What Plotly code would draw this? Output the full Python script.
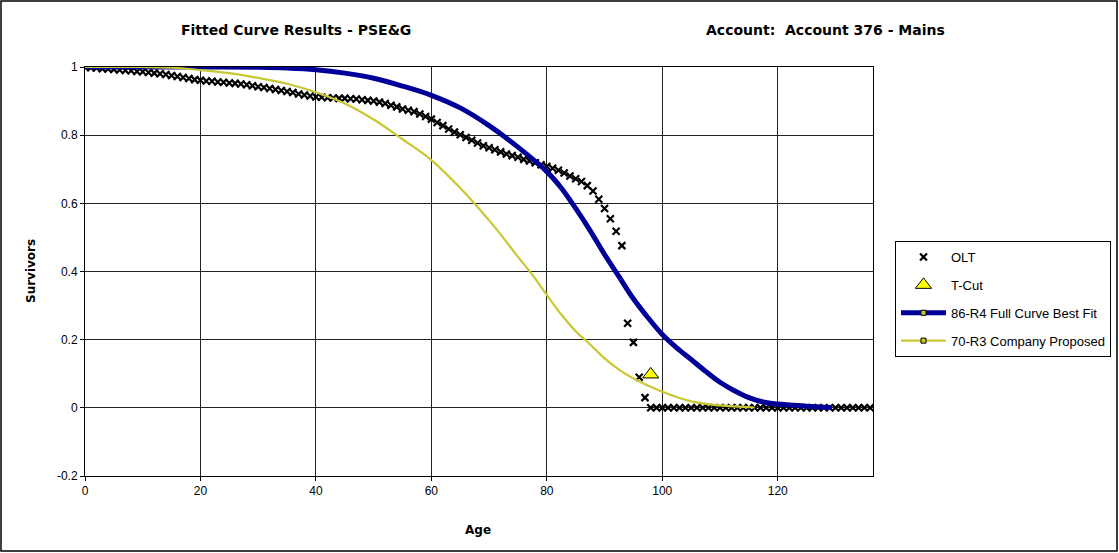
import plotly.graph_objects as go

# ---------------- data ----------------
olt_age = list(range(0, 137))
olt_surv = [
    1.000, 0.998, 0.997, 0.995, 0.994, 0.993, 0.991, 0.990, 0.989, 0.987,
    0.986, 0.984, 0.982, 0.980, 0.978, 0.975, 0.972, 0.969, 0.966, 0.963,
    0.961, 0.959, 0.958, 0.956, 0.955, 0.953, 0.952, 0.950, 0.948, 0.945,
    0.942, 0.940, 0.937, 0.934, 0.931, 0.928, 0.925, 0.921, 0.918, 0.915,
    0.912, 0.911, 0.910, 0.909, 0.908, 0.908, 0.907, 0.906, 0.904, 0.902,
    0.900, 0.897, 0.893, 0.888, 0.883, 0.877, 0.873, 0.869, 0.862, 0.855,
    0.847, 0.837, 0.828, 0.818, 0.809, 0.801, 0.793, 0.785, 0.777, 0.769,
    0.763, 0.757, 0.751, 0.745, 0.740, 0.735, 0.729, 0.724, 0.719, 0.713,
    0.708, 0.703, 0.697, 0.689, 0.680, 0.672, 0.664, 0.652, 0.636, 0.612,
    0.585, 0.555, 0.518, 0.476, 0.248, 0.192, 0.090, 0.030,
    0.0, 0.0, 0.0, 0.0, 0.0, 0.0, 0.0, 0.0, 0.0, 0.0,
    0.0, 0.0, 0.0, 0.0, 0.0, 0.0, 0.0, 0.0, 0.0, 0.0,
    0.0, 0.0, 0.0, 0.0, 0.0, 0.0, 0.0, 0.0, 0.0, 0.0,
    0.0, 0.0, 0.0, 0.0, 0.0, 0.0, 0.0, 0.0, 0.0,
]

tcut_age = [98]
tcut_surv = [0.098]

best_age = [0, 10, 20, 30, 35, 40, 45, 50, 55, 60, 65, 70, 75, 80, 82.5, 85,
            87.5, 90, 92.5, 95, 97.5, 100, 102.5, 105, 107.5, 110, 112.5,
            115, 117.5, 120, 125, 129.3]
best_surv = [1.0, 1.0, 1.0, 0.999, 0.997, 0.992, 0.982, 0.967, 0.944, 0.917,
             0.880, 0.828, 0.765, 0.693, 0.645, 0.585, 0.520, 0.450, 0.385,
             0.320, 0.265, 0.215, 0.176, 0.142, 0.107, 0.075, 0.050,
             0.030, 0.017, 0.011, 0.005, 0.001]

prop_age = [0, 10, 15, 20, 25, 30, 35, 40, 45, 50, 55, 60, 65, 70, 72.5, 75,
            77.5, 80, 82.5, 85, 87.5, 90, 92.5, 95, 100, 105, 110, 116]
prop_surv = [1.0, 1.0, 0.998, 0.991, 0.982, 0.968, 0.951, 0.926, 0.893, 0.846,
             0.788, 0.727, 0.645, 0.550, 0.498, 0.443, 0.390, 0.331, 0.274,
             0.225, 0.186, 0.145, 0.112, 0.086, 0.047, 0.019, 0.007, 0.001]

x_ticks = [0, 20, 40, 60, 80, 100, 120]
y_ticks = [-0.2, 0, 0.2, 0.4, 0.6, 0.8, 1]
y_tick_labels = ["-0.2", "0", "0.2", "0.4", "0.6", "0.8", "1"]

title_left = "Fitted Curve Results - PSE&G"
title_right = "Account:\u00a0 Account 376 - Mains"
x_title = "Age"
y_title = "Survivors"

names = ["OLT", "T-Cut", "86-R4 Full Curve Best Fit", "70-R3 Company Proposed"]

NAVY = "#000099"
OLIVE = "#C8C832"

# ---------------- figure ----------------
fig = go.Figure()

fig.add_trace(go.Scatter(
    x=olt_age, y=olt_surv, mode="markers", name=names[0], legendrank=1,
    legendgroup="olt",
    marker=dict(symbol="x-thin", size=7, color="black",
                line=dict(color="black", width=2.2)),
))
fig.add_trace(go.Scatter(
    x=best_age, y=best_surv, mode="lines", name=names[2], showlegend=False,
    legendgroup="best", legendrank=3,
    line=dict(color=NAVY, width=5, shape="spline"),
))
fig.add_trace(go.Scatter(
    x=prop_age, y=prop_surv, mode="lines", name=names[3], showlegend=False,
    legendgroup="prop", legendrank=4,
    line=dict(color=OLIVE, width=2.2, shape="spline"),
))
fig.add_trace(go.Scatter(
    x=tcut_age, y=tcut_surv, mode="markers", name=names[1], legendrank=2,
    legendgroup="tcut",
    marker=dict(symbol="triangle-up", size=14, color="#FFFF00",
                line=dict(color="black", width=1)),
))
# legend entries for the curves (line with small square marker)
fig.add_trace(go.Scatter(
    x=[None], y=[None], mode="lines+markers", name=names[2], legendrank=3,
    legendgroup="best", line=dict(color=NAVY, width=5),
    marker=dict(symbol="square", size=5, color=OLIVE,
                line=dict(color="black", width=1)),
))
fig.add_trace(go.Scatter(
    x=[None], y=[None], mode="lines+markers", name=names[3], legendrank=4,
    legendgroup="prop", line=dict(color=OLIVE, width=2.2),
    marker=dict(symbol="square", size=5, color=OLIVE,
                line=dict(color="black", width=1)),
))

L, R, T, B = 85, 246, 67, 77
W, H = 1119, 553
pw, ph = W - L - R, H - T - B

def px(xp):
    return (xp - L) / pw

def py(yp):
    return (H - B - yp) / ph

title_font = dict(family="DejaVu Sans", size=14, color="black")
axis_title_font = dict(family="DejaVu Sans", size=12, color="black")

fig.update_layout(
    width=W, height=H,
    margin=dict(l=L, r=R, t=T, b=B, pad=0, autoexpand=False),
    paper_bgcolor="white", plot_bgcolor="white",
    font=dict(family="Liberation Sans, Arial", size=12, color="black"),
    legend=dict(
        x=px(895), y=py(241), xanchor="left", yanchor="top",
        bordercolor="black", borderwidth=1, bgcolor="white",
        font=dict(family="Liberation Sans, Arial", size=13, color="black"),
        tracegroupgap=8, traceorder="grouped", itemwidth=45,
    ),
    xaxis=dict(
        range=[0, 136.5], tickvals=x_ticks, ticks="outside", ticklen=4,
        tickcolor="black", showgrid=True, gridcolor="#222222", gridwidth=1,
        showline=True, linecolor="black", linewidth=1, mirror=True,
        zeroline=False, tickfont=dict(size=12),
    ),
    yaxis=dict(
        range=[-0.2, 1.0], tickvals=y_ticks, ticktext=y_tick_labels,
        ticks="outside", ticklen=4, tickcolor="black", showgrid=True,
        gridcolor="#222222", gridwidth=1, showline=True, linecolor="black",
        linewidth=1, mirror=True, zeroline=False, tickfont=dict(size=12),
    ),
    showlegend=True,
)

annotations = [
    dict(text="<b>" + title_left + "</b>", x=px(296), y=py(30), font=title_font),
    dict(text="<b>" + title_right + "</b>", x=px(825), y=py(30), font=title_font),
    dict(text="<b>" + x_title + "</b>", x=px(478), y=py(530), font=axis_title_font),
    dict(text="<b>" + y_title + "</b>", x=px(31), y=py(271), textangle=-90,
         font=axis_title_font),
]
for a in annotations:
    fig.add_annotation(xref="paper", yref="paper", showarrow=False,
                       xanchor="center", yanchor="middle", **a)

# outer frame around the whole chart
fig.add_shape(type="rect", xref="paper", yref="paper",
              x0=px(1), x1=px(1117), y0=py(551), y1=py(1),
              line=dict(color="black", width=1.5), fillcolor="rgba(0,0,0,0)",
              layer="below")

fig.write_html("out.html")
